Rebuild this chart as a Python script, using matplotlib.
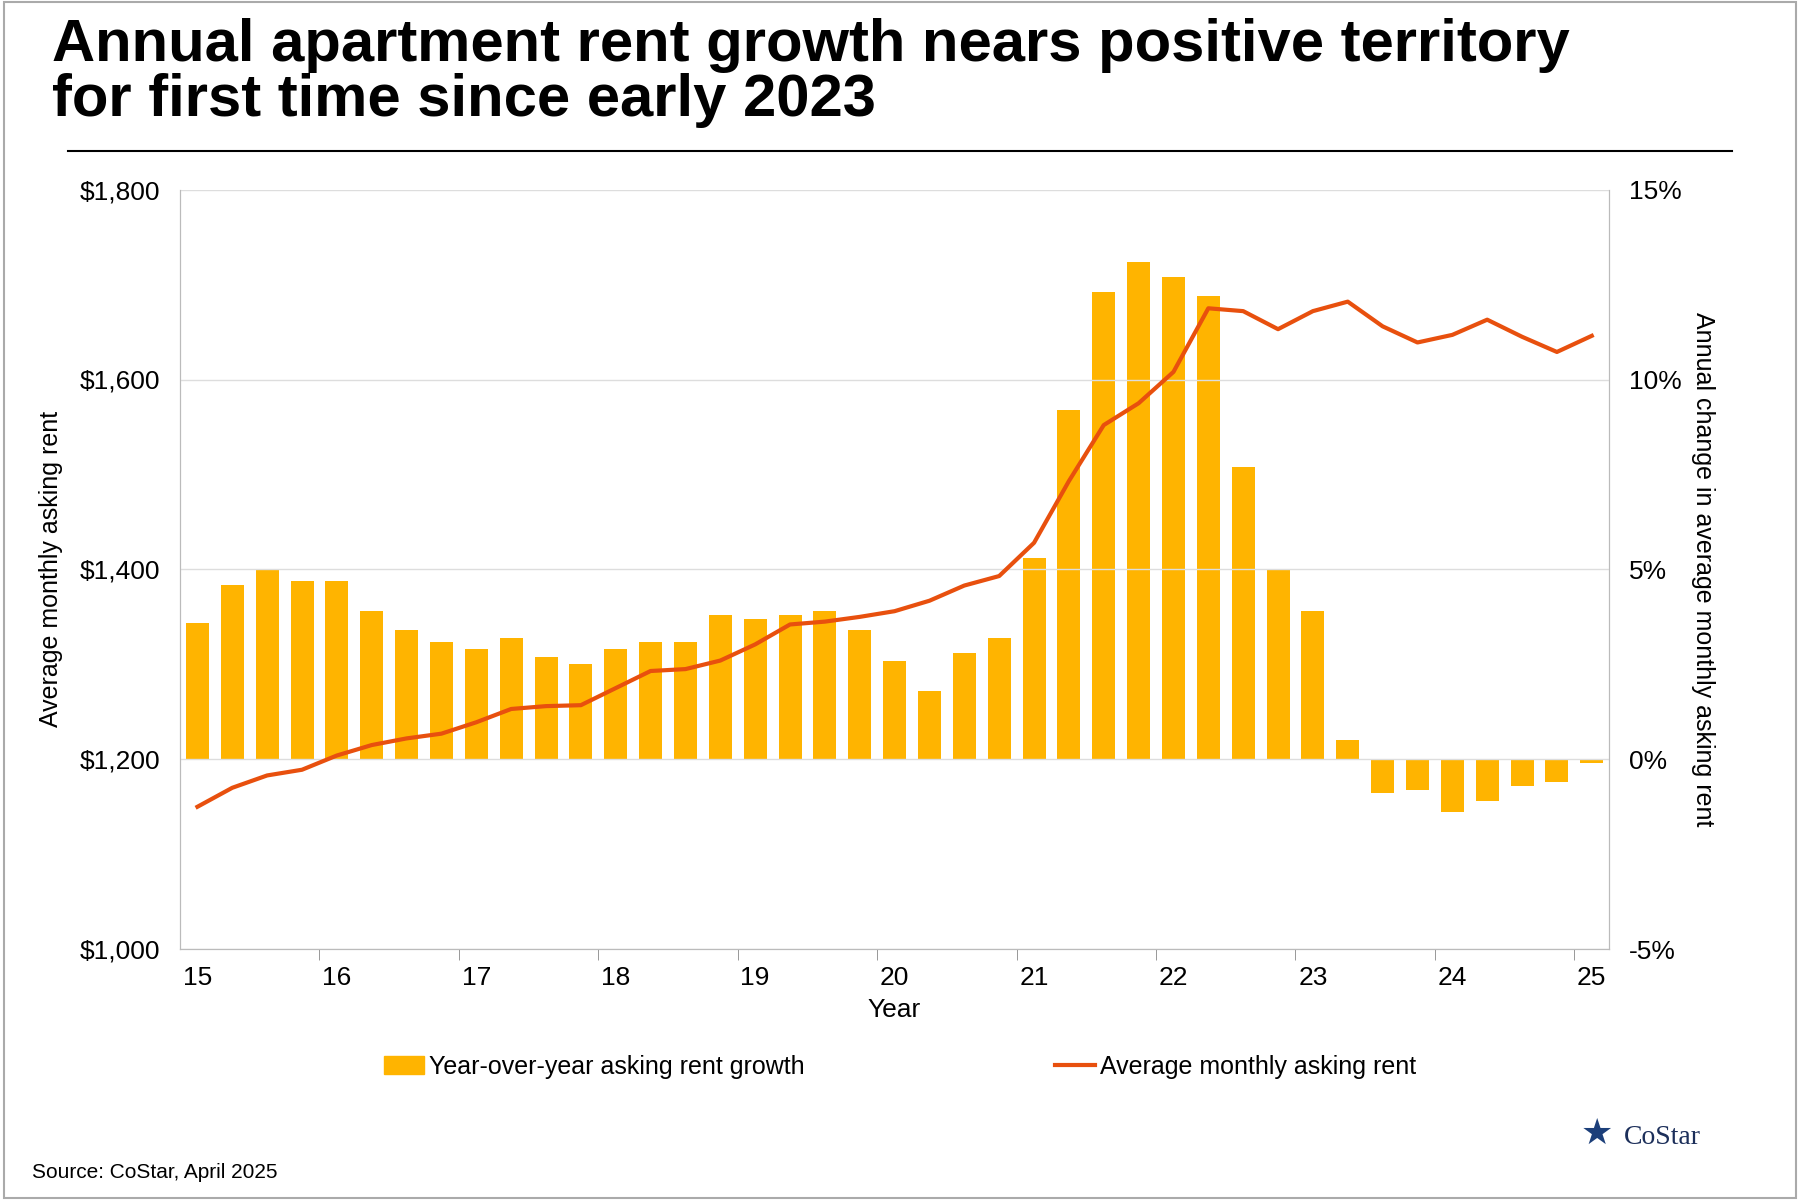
import numpy as np
import matplotlib.pyplot as plt
from matplotlib.lines import Line2D
from matplotlib.patches import Rectangle

plt.rcParams['font.family'] = ['Liberation Sans', 'DejaVu Sans']

year_labels = ['15', '16', '17', '18', '19', '20', '21', '22', '23', '24', '25']
growth_pct = [3.6, 4.6, 5.0, 4.7, 4.7, 3.9, 3.4, 3.1, 2.9, 3.2, 2.7, 2.5, 2.9, 3.1, 3.1,
              3.8, 3.7, 3.8, 3.9, 3.4, 2.6, 1.8, 2.8, 3.2, 5.3, 9.2, 12.3, 13.1, 12.7,
              12.2, 7.7, 5.0, 3.9, 0.5, -0.9, -0.8, -1.4, -1.1, -0.7, -0.6, -0.1]
avg_rent = [1150, 1170, 1183, 1189, 1204, 1215, 1222, 1227, 1239, 1253, 1256, 1257, 1275,
            1293, 1295, 1304, 1321, 1342, 1345, 1350, 1356, 1367, 1383, 1393, 1428, 1493,
            1552, 1575, 1608, 1675, 1672, 1653, 1672, 1682, 1656, 1639, 1647, 1663, 1645,
            1629, 1646]

BAR = '#FFB400'
LINE = '#E8500E'

fig = plt.figure(figsize=(18, 12), dpi=100)
fig.patches.append(Rectangle((0.002, 0.002), 0.996, 0.996, transform=fig.transFigure,
                             fill=False, edgecolor='#aaaaaa', lw=1.5))
fig.text(0.029, 0.985, 'Annual apartment rent growth nears positive territory\nfor first time since early 2023',
         fontsize=43, fontweight='bold', va='top', ha='left', linespacing=1.0)
fig.add_artist(Line2D([0.038, 0.962], [0.874, 0.874], color='black', lw=1.5))

ax = fig.add_axes([0.100, 0.209, 0.794, 0.633])
ax2 = ax.twinx()
x = np.arange(len(growth_pct))

ax2.bar(x, growth_pct, width=0.66, color=BAR, zorder=2)
ax2.set_ylim(-5, 15)
ax2.set_yticks([-5, 0, 5, 10, 15])
ax2.set_yticklabels(['-5%', '0%', '5%', '10%', '15%'])
ax2.set_ylabel('Annual change in average monthly asking rent', fontsize=18, rotation=270, labelpad=24)

ax.plot(x, avg_rent, color=LINE, lw=3, zorder=3)
ax.set_ylim(1000, 1800)
ax.set_yticks([1000, 1200, 1400, 1600, 1800])
ax.set_yticklabels(['$1,000', '$1,200', '$1,400', '$1,600', '$1,800'])
ax.set_ylabel('Average monthly asking rent', fontsize=18, labelpad=12)
ax.grid(axis='y', color='#dddddd', lw=1)
ax.set_axisbelow(True)
ax.set_zorder(ax2.get_zorder() + 1)
ax.patch.set_visible(False)

ax.set_xlim(-0.5, len(x) - 0.5)
ax.set_xticks(np.arange(0, len(x), 4))
ax.set_xticklabels(year_labels)
ax.set_xticks(np.arange(3.5, len(x) - 1, 4), minor=True)
ax.tick_params(axis='x', which='major', length=0, labelsize=19, pad=12)
ax.tick_params(axis='x', which='minor', length=8, color='#888888')
ax.set_xlabel('Year', fontsize=19, labelpad=6)
for a in (ax, ax2):
    a.tick_params(axis='y', length=0, labelsize=19, pad=14)
    a.spines['top'].set_visible(False)
    for s in ['left', 'right', 'bottom']:
        a.spines[s].set_color('#bbbbbb')

handles = [Rectangle((0, 0), 1, 1, color=BAR), Line2D([], [], color=LINE, lw=3)]
fig.legend(handles, ['Year-over-year asking rent growth', 'Average monthly asking rent'],
           loc='center', bbox_to_anchor=(0.5, 0.111), ncol=2, frameon=False,
           fontsize=18, columnspacing=10, handlelength=1.6, handletextpad=0.2)

fig.text(0.018, 0.018, 'Source: CoStar, April 2025', fontsize=15)
fig.text(0.902, 0.047, 'CoStar', fontsize=20, family='Liberation Serif', color='#1c2f5a')
fig.text(0.887, 0.047, '\u2605', fontsize=26, color='#1c3f7a', ha='center')

fig.savefig('out.png', dpi=100)
